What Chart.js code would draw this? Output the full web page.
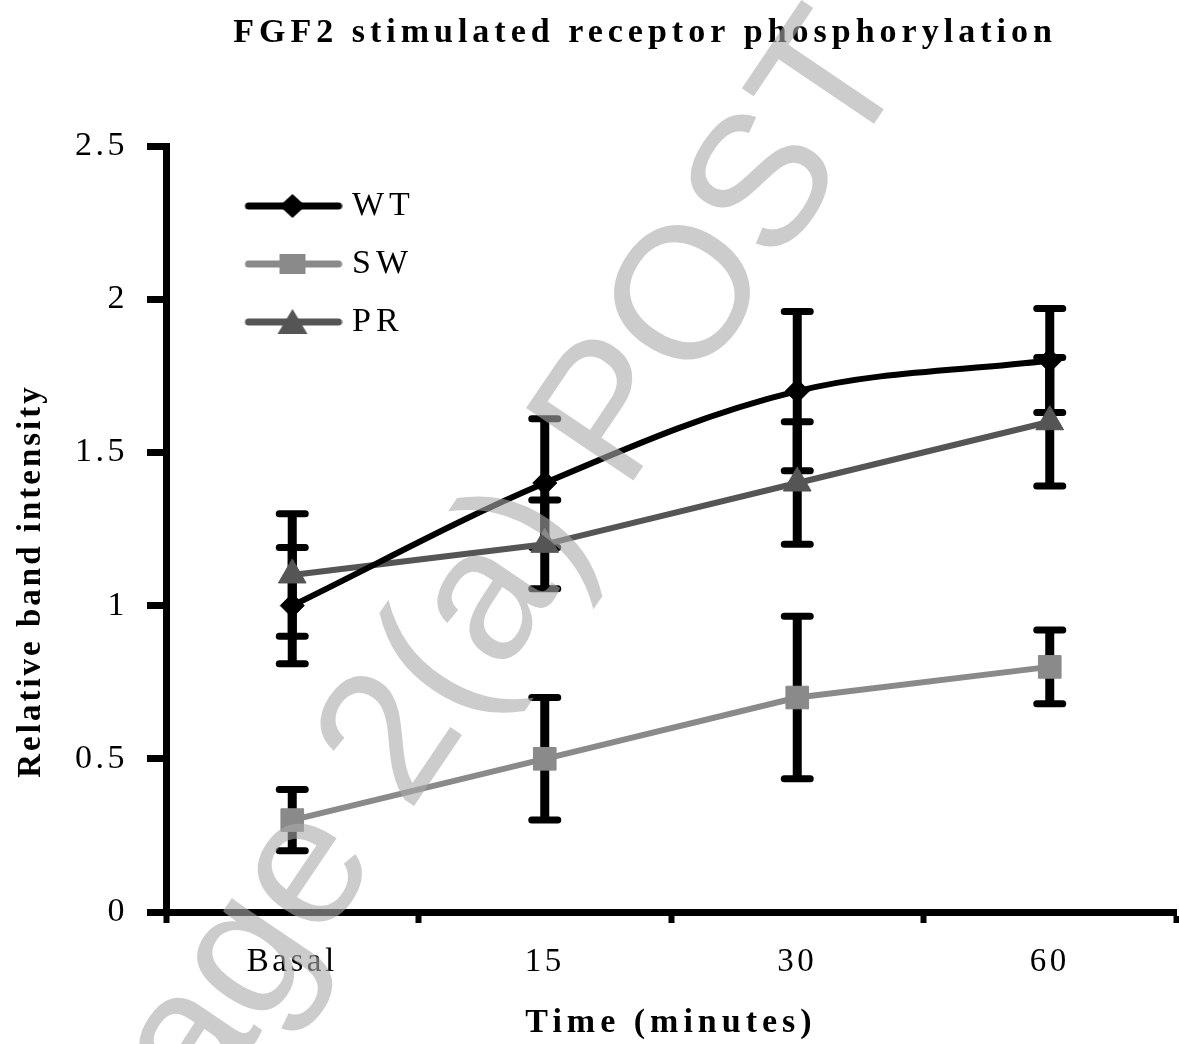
<!DOCTYPE html>
<html>
<head>
<meta charset="utf-8">
<title>FGF2 stimulated receptor phosphorylation</title>
<style>
  html, body { margin: 0; padding: 0; background: #fff; }
  canvas { display: block; }
</style>
<script src="https://cdn.jsdelivr.net/npm/chart.js@4.4.1/dist/chart.umd.min.js"></script>
</head>
<body>
<canvas id="phosChart" width="1179" height="1044"></canvas>
<script>
// -----------------------------
// - Data  -
// -----------------------------
const timeLabels = ['Basal', '15', '30', '60'];

const seriesNames = ['WT', 'SW', 'PR'];

// mean relative band intensity
const wtValues = [1.0, 1.4, 1.7, 1.8];
const swValues = [0.3, 0.5, 0.7, 0.8];
const prValues = [1.1, 1.2, 1.4, 1.6];

// error bar half lengths (+/-)
const wtErrors = [0.19, 0.21, 0.26, 0.17];
const swErrors = [0.1, 0.2, 0.265, 0.12];
const prErrors = [0.2, 0.145, 0.2, 0.21];

// y axis: 0 .. 2.5 in steps of 0.5
const yMin = 0;
const yMax = 2.5;
const yStep = 0.5;

const chartTitle = 'FGF2 stimulated receptor phosphorylation';
const xTitle = 'Time (minutes)';
const yTitle = 'Relative band intensity';
const watermarkText = 'Page 2(a) POST';

const errorSets = [wtErrors, swErrors, prErrors];

// ------------
// - Styling  -
// ------------
const serif = '"Liberation Serif", "Times New Roman", serif';
Chart.defaults.font.family = serif;
Chart.defaults.color = '#000';

// legend icon = short line with the marker in the middle (like Excel)
function makeLegendIcon(color, shape) {
    const c = document.createElement('canvas');
    c.width = 160;
    c.height = 40;
    const g = c.getContext('2d');
    g.strokeStyle = color;
    g.fillStyle = color;
    g.lineWidth = 7;
    g.lineCap = 'round';
    g.beginPath();
    g.moveTo(66, 20);
    g.lineTo(156, 20);
    g.stroke();
    const cx = 110, cy = 20;
    g.beginPath();
    if (shape === 'diamond') {
        g.moveTo(cx, cy - 12); g.lineTo(cx + 13, cy); g.lineTo(cx, cy + 12); g.lineTo(cx - 13, cy);
    } else if (shape === 'square') {
        g.rect(cx - 13, cy - 10, 26, 20);
    } else {
        g.moveTo(cx, cy - 13); g.lineTo(cx + 15, cy + 12); g.lineTo(cx - 15, cy + 12);
    }
    g.closePath();
    g.fill();
    return c;
}

const legendIcons = [
    makeLegendIcon('#000000', 'diamond'),
    makeLegendIcon('#8a8a8a', 'square'),
    makeLegendIcon('#555555', 'triangle')
];

// letter spacing: wide for titles/legend, a bit less for tick labels
const spacingPlugin = {
    id: 'spacing',
    beforeDraw(chart) {
        chart.ctx.letterSpacing = '5px';
    },
    beforeDatasetsDraw(chart) {
        chart.ctx.letterSpacing = '3.5px';
    }
};

// error bars, drawn under the lines and markers
const errorBarPlugin = {
    id: 'errorBars',
    beforeDatasetsDraw(chart) {
        const ctx = chart.ctx;
        const yScale = chart.scales.y;
        ctx.save();
        ctx.strokeStyle = '#000';
        chart.data.datasets.forEach(function (ds, i) {
            const errs = errorSets[i];
            chart.getDatasetMeta(i).data.forEach(function (pt, j) {
                const top = yScale.getPixelForValue(ds.data[j] + errs[j]);
                const bot = yScale.getPixelForValue(ds.data[j] - errs[j]);
                ctx.lineWidth = 9;
                ctx.lineCap = 'butt';
                ctx.beginPath();
                ctx.moveTo(pt.x, top);
                ctx.lineTo(pt.x, bot);
                ctx.stroke();
                ctx.lineWidth = 7;
                ctx.lineCap = 'round';
                ctx.beginPath();
                ctx.moveTo(pt.x - 13, top);
                ctx.lineTo(pt.x + 13, top);
                ctx.moveTo(pt.x - 13, bot);
                ctx.lineTo(pt.x + 13, bot);
                ctx.stroke();
            });
        });
        ctx.restore();
    }
};

// chart title, rotated y title and the grey watermark on top
const overlayPlugin = {
    id: 'overlay',
    afterDraw(chart) {
        const ctx = chart.ctx;
        const area = chart.chartArea;

        ctx.save();
        ctx.fillStyle = '#000';
        ctx.textAlign = 'center';
        ctx.textBaseline = 'middle';
        ctx.letterSpacing = '5px';
        ctx.font = 'bold 34px ' + serif;
        ctx.fillText(chartTitle, area.left + 479, 33);
        ctx.restore();

        ctx.save();
        ctx.fillStyle = '#000';
        ctx.textAlign = 'center';
        ctx.textBaseline = 'middle';
        ctx.letterSpacing = '3px';
        ctx.font = 'bold 33px ' + serif;
        ctx.translate(31, (area.top + area.bottom) / 2 + 52);
        ctx.rotate(-Math.PI / 2);
        ctx.fillText(yTitle, 0, 0);
        ctx.restore();

        ctx.save();
        ctx.letterSpacing = '0px';
        const size = 188;
        ctx.font = size + 'px "Liberation Sans", Arial, sans-serif';
        ctx.fillStyle = 'rgba(170,170,170,0.6)';
        ctx.textAlign = 'left';
        ctx.textBaseline = 'alphabetic';
        ctx.translate(680, 291);
        ctx.rotate(-56 * Math.PI / 180);
        const lead = ctx.measureText('Page 2(a) P').width + ctx.measureText('O').width / 2;
        ctx.fillText(watermarkText, -lead, size * 0.716 / 2);
        ctx.restore();
    }
};

var ctx = document.getElementById('phosChart');

var phosChart = new Chart(ctx, {
    type: 'line',
    data: {
        labels: timeLabels,
        datasets: [{
            label: seriesNames[0],
            data: wtValues,
            borderColor: '#000000',
            backgroundColor: '#000000',
            borderWidth: 6,
            tension: 0.35,
            pointStyle: 'rectRot',
            pointRadius: 12,
            pointBorderWidth: 1
        }, {
            label: seriesNames[1],
            data: swValues,
            borderColor: '#8a8a8a',
            backgroundColor: '#8a8a8a',
            borderWidth: 6,
            tension: 0,
            pointStyle: 'rect',
            pointRadius: 16,
            pointBorderWidth: 1
        }, {
            label: seriesNames[2],
            data: prValues,
            borderColor: '#555555',
            backgroundColor: '#555555',
            borderWidth: 6,
            tension: 0,
            pointStyle: 'triangle',
            pointRadius: 16,
            pointBorderWidth: 1
        }]
    },
    options: {
        responsive: false,
        animation: false,
        devicePixelRatio: 1,
        events: [],
        layout: {
            autoPadding: false,
            padding: { top: 146, left: 0, right: 3, bottom: 0 }
        },
        plugins: {
            title: { display: false },
            tooltip: { enabled: false },
            legend: {
                position: 'chartArea',
                align: 'start',
                // legend box top is reset to 0 in chartArea mode,
                // so the (empty) legend title pushes the items down
                title: {
                    display: true,
                    text: '',
                    font: { size: 10 },
                    padding: { top: 0, bottom: 153 }
                },
                labels: {
                    usePointStyle: true,
                    pointStyleWidth: 145,
                    padding: 24,
                    color: '#000',
                    font: { size: 34 },
                    generateLabels: function (chart) {
                        return chart.data.datasets.map(function (ds, i) {
                            return {
                                text: ds.label,
                                pointStyle: legendIcons[i],
                                fontColor: '#000',
                                fillStyle: 'rgba(0,0,0,0)',
                                strokeStyle: 'rgba(0,0,0,0)',
                                lineWidth: 0,
                                hidden: false,
                                datasetIndex: i
                            };
                        });
                    }
                }
            }
        },
        scales: {
            x: {
                type: 'category',
                offset: true,
                afterFit: function (scale) {
                    scale.height = 132;
                    scale.paddingLeft = 0;
                    scale.paddingRight = 0;
                },
                grid: {
                    offset: true,
                    drawOnChartArea: false,
                    drawTicks: true,
                    tickLength: 11,
                    tickWidth: 6,
                    tickColor: '#000'
                },
                border: { display: true, width: 7, color: '#000' },
                ticks: {
                    z: 1,
                    padding: 20,
                    color: '#000',
                    font: { size: 33 },
                    maxRotation: 0
                },
                title: {
                    display: true,
                    text: xTitle,
                    color: '#000',
                    font: { size: 34, weight: 'bold' },
                    padding: { top: 0, bottom: 0 }
                }
            },
            y: {
                min: yMin,
                max: yMax,
                afterFit: function (scale) { scale.width = 166; },
                grid: {
                    drawOnChartArea: false,
                    drawTicks: true,
                    tickLength: 19,
                    tickWidth: 7,
                    tickColor: '#000'
                },
                border: { display: true, width: 7, color: '#000' },
                ticks: {
                    z: 1,
                    stepSize: yStep,
                    padding: 19,
                    color: '#000',
                    font: { size: 34 },
                    callback: function (value) { return String(value); }
                }
            }
        }
    },
    plugins: [spacingPlugin, errorBarPlugin, overlayPlugin]
});
</script>
</body>
</html>
